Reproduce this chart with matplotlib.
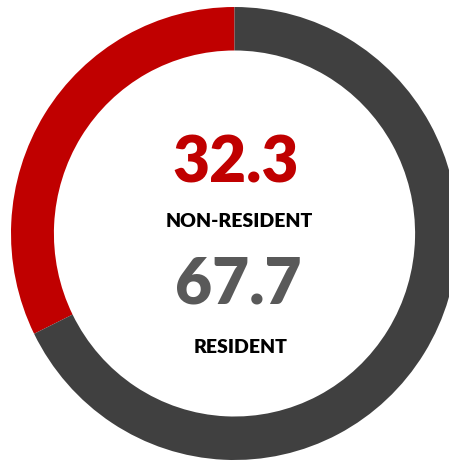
import matplotlib
matplotlib.use("Agg")
import matplotlib.pyplot as plt

# Share of visitors
labels = ["NON-RESIDENT", "RESIDENT"]
values = [32.3, 67.7]
ring_colours = ["#C00000", "#404040"]
number_colours = ["#C00000", "#595959"]

fig = plt.figure(figsize=(4.49, 4.61), dpi=100)
# ring is drawn a touch taller than wide, like the original
ax = fig.add_axes([11 / 449, 1 / 461, 447 / 449, 453 / 461])

ax.pie(
    values,
    colors=ring_colours,
    startangle=90,
    counterclock=True,
    radius=1,
    wedgeprops=dict(width=0.192, linewidth=0),
)
ax.set_aspect("auto")
ax.set_xlim(-1, 1)
ax.set_ylim(-1, 1)
ax.axis("off")

# number + label, stacked in the hole
number_pos = [(0.005, 0.223), (0.018, -0.307)]
label_pos = [(0.02, 0.029), (0.025, -0.528)]

for i in range(len(values)):
    ax.text(
        *number_pos[i],
        f"{values[i]:.1f}",
        ha="center",
        va="baseline",
        fontsize=46,
        fontweight="heavy",
        family="Lato",
        color=number_colours[i],
    )
    ax.text(
        *label_pos[i],
        labels[i],
        ha="center",
        va="baseline",
        fontsize=14,
        fontweight="heavy",
        family="Lato",
        color="black",
    )

fig.savefig("out.png", dpi=100)
